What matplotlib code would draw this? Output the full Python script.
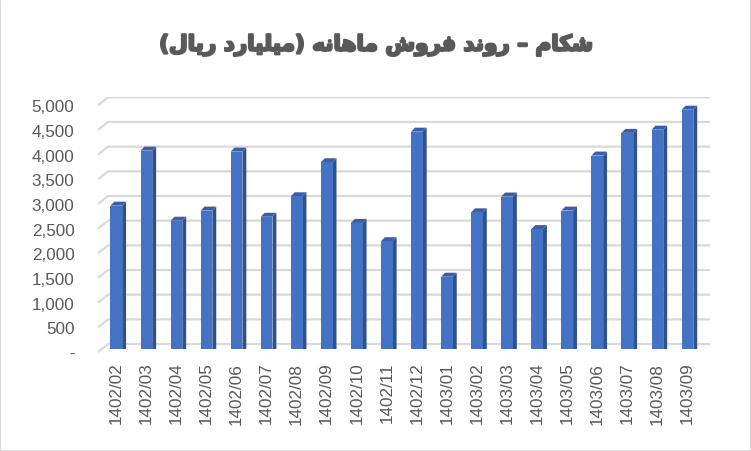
import numpy as np
import matplotlib
matplotlib.use('Agg')
import matplotlib.pyplot as plt
import matplotlib.patheffects as pe
from matplotlib.patches import Polygon, Rectangle

# monthly sales (billion rial)
months = ['1402/02', '1402/03', '1402/04', '1402/05', '1402/06', '1402/07',
          '1402/08', '1402/09', '1402/10', '1402/11', '1402/12', '1403/01',
          '1403/02', '1403/03', '1403/04', '1403/05', '1403/06', '1403/07',
          '1403/08', '1403/09']
sales = [2905, 4020, 2600, 2805, 4000, 2680, 3095, 3785, 2555, 2185,
         4405, 1465, 2770, 3090, 2430, 2805, 3920, 4380, 4445, 4850]
y_levels = [0, 500, 1000, 1500, 2000, 2500, 3000, 3500, 4000, 4500, 5000]
y_labels = ['-', '500', '1,000', '1,500', '2,000', '2,500', '3,000',
            '3,500', '4,000', '4,500', '5,000']
title_text = 'شکام – روند فروش ماهانه (میلیارد ریال)'

# --- minimal Persian shaping (matplotlib does no Arabic shaping / bidi) ---
FORMS = {
    'ا': ('\uFE8D', '\uFE8E'),
    'د': ('\uFEA9', '\uFEAA'),
    'ر': ('\uFEAD', '\uFEAE'),
    'و': ('\uFEED', '\uFEEE'),
    'ش': ('\uFEB5', '\uFEB6', '\uFEB7', '\uFEB8'),
    'م': ('\uFEE1', '\uFEE2', '\uFEE3', '\uFEE4'),
    'ن': ('\uFEE5', '\uFEE6', '\uFEE7', '\uFEE8'),
    'ف': ('\uFED1', '\uFED2', '\uFED3', '\uFED4'),
    'ه': ('\uFEE9', '\uFEEA', '\uFEEB', '\uFEEC'),
    'ل': ('\uFEDD', '\uFEDE', '\uFEDF', '\uFEE0'),
    'ک': ('\uFB8E', '\uFB8F', '\uFB90', '\uFB91'),
    'ی': ('\uFBFC', '\uFBFD', '\uFBFE', '\uFBFF'),
}
MIRROR = {'(': ')', ')': '('}


def shape_rtl(text):
    out = []
    for i, ch in enumerate(text):
        if ch not in FORMS:
            out.append(MIRROR.get(ch, ch))
            continue
        prev = text[i - 1] if i > 0 else ''
        nxt = text[i + 1] if i + 1 < len(text) else ''
        join_prev = prev in FORMS and len(FORMS[prev]) == 4
        join_next = len(FORMS[ch]) == 4 and nxt in FORMS
        f = FORMS[ch]
        if join_prev and join_next:
            out.append(f[3])
        elif join_prev:
            out.append(f[1])
        elif join_next:
            out.append(f[2])
        else:
            out.append(f[0])
    return ''.join(reversed(out))


# 3D look parameters (data units)
bar_w = 0.39
depth_x = 0.13
depth_y = 81
wall_dy = 101
diag_drop = 162
x_min, x_max = -0.609, 19.75
wall_x = -0.276

fig = plt.figure(figsize=(7.51, 4.52), dpi=100)
fig.patches.append(Rectangle((0, 0), 1, 1, transform=fig.transFigure,
                             fill=False, edgecolor='#d9d9d9', linewidth=1.5))
ax = fig.add_axes([98 / 751, (452 - 355) / 452, 612 / 751, 257 / 452])

# back wall gridlines with the little perspective step on the left
for v in y_levels:
    ax.plot([x_min, wall_x, x_max], [v - diag_drop + wall_dy, v + wall_dy, v + wall_dy],
            color='#d9d9d9', linewidth=1.6, zorder=0, solid_capstyle='butt')

x = np.arange(len(months))
ax.bar(x, sales, width=bar_w, color='#4472C4', zorder=3)
for xi, h in zip(x, sales):
    r = xi + bar_w / 2
    l = xi - bar_w / 2
    side = Polygon([(r, 0), (r + depth_x, 0), (r + depth_x, h + depth_y), (r, h)],
                   closed=True, facecolor='#2F528F', edgecolor='none', zorder=2)
    top = Polygon([(l, h), (r, h), (r + depth_x, h + depth_y), (l + depth_x, h + depth_y)],
                  closed=True, facecolor='#3A5FA8', edgecolor='none', zorder=2)
    ax.add_patch(side)
    ax.add_patch(top)

ax.set_xlim(x_min, x_max)
ax.set_ylim(-101, 5107)
for s in ax.spines.values():
    s.set_visible(False)

ax.set_yticks([v - diag_drop + wall_dy for v in y_levels])
ax.set_yticklabels(y_labels, fontfamily='Liberation Sans', fontsize=12.3, color='#595959')
ax.tick_params(axis='y', length=0, pad=17)
ax.set_xticks(x)
ax.set_xticklabels(months, rotation=90, fontfamily='Liberation Sans', fontsize=12.3,
                   color='#595959', va='top')
ax.tick_params(axis='x', length=0, pad=5.5)

fig.text(0.5, 1 - 46 / 452, shape_rtl(title_text), ha='center', va='center',
         fontsize=15.5, fontweight='bold', color='#595959', family=['DejaVu Sans'],
         path_effects=[pe.withStroke(linewidth=1.6, foreground='#595959')])

fig.savefig('out.png', dpi=100)
